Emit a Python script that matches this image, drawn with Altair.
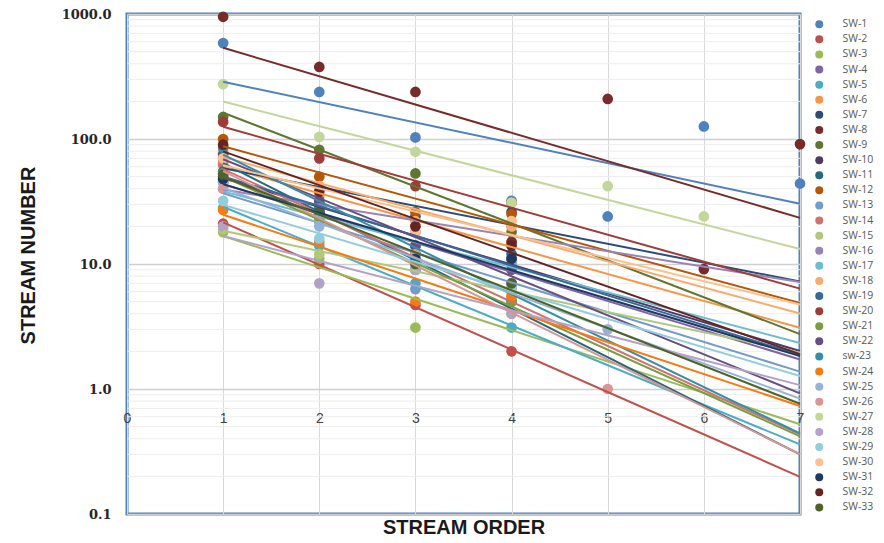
import altair as alt
import pandas as pd

names = ["SW-1", "SW-2", "SW-3", "SW-4", "SW-5", "SW-6", "SW-7", "SW-8", "SW-9", "SW-10",
         "SW-11", "SW-12", "SW-13", "SW-14", "SW-15", "SW-16", "SW-17", "SW-18", "SW-19", "SW-20",
         "SW-21", "SW-22", "sw-23", "SW-24", "SW-25", "SW-26", "SW-27", "SW-28", "SW-29", "SW-30",
         "SW-31", "SW-32", "SW-33"]

colors = ["#4F81BD", "#C0504D", "#9BBB59", "#8064A2", "#4BACC6", "#F79646",
          "#2C4D75", "#772C2A", "#5F7530", "#4D3B62", "#276A7C", "#B65708",
          "#729ACA", "#CD7371", "#AFC97A", "#9983B5", "#6FBDD1", "#F9AB6B",
          "#3A679C", "#9F3B38", "#7E9D40", "#664F82", "#358EA6", "#F57B12",
          "#95B3D7", "#D99694", "#C3D69B", "#B3A2C7", "#93CDDD", "#FAC090",
          "#1F3A60", "#632523", "#4F6228"]

orders = [1, 2, 3, 4, 5, 6, 7]

# stream numbers per stream order (order 1, 2, 3, ...)
sw1 = [585, 238, 103, 32, 24, 126, 44]
sw2 = [21, 10, 4.7, 2.0]
sw3 = [18, 11, 3.1, 4.0]
sw4 = [47, 25, 12, 10]
sw5 = [28, 14, 7, 3.1]
sw6 = [65, 35, 20, 15]
sw7 = [77, 30, 24, 26]
sw8 = [950, 377, 238, 15, 209, 9.1, 91]
sw9 = [150, 82, 53, 18]
sw10 = [50, 30, 14, 11]
sw11 = [70, 25, 9, 5]
sw12 = [100, 50, 26, 25]
sw13 = [45, 22, 6.3, 11]
sw14 = [62, 24, 10, 5.5]
sw15 = [19, 12, 9, 6]
sw16 = [45, 27, 18, 20]
sw17 = [40, 23, 14, 10]
sw18 = [80, 42, 22, 20]
sw19 = [55, 30, 12, 12]
sw20 = [137, 70, 42, 31]
sw21 = [53, 22, 9, 5]
sw22 = [75, 32, 14, 9]
sw23 = [85, 28, 12, 6.5]
sw24 = [27, 15, 5, 5.5]
sw25 = [45, 20, 9, 7, 3.0]
sw26 = [40, 26, 12, 7, 1.0]
sw27 = [275, 104, 79, 31, 42, 24]
sw28 = [20, 7, 9, 4]
sw29 = [32, 16, 10, 6.5]
sw30 = [70, 40, 18, 22]
sw31 = [48, 26, 11, 11]
sw32 = [90, 38, 20, 14]
sw33 = [52, 26, 10, 7]

series_values = [sw1, sw2, sw3, sw4, sw5, sw6, sw7, sw8, sw9, sw10, sw11, sw12, sw13, sw14,
                 sw15, sw16, sw17, sw18, sw19, sw20, sw21, sw22, sw23, sw24, sw25, sw26,
                 sw27, sw28, sw29, sw30, sw31, sw32, sw33]

y_ticks = [0.1, 1, 10, 100, 1000]
x_ticks = [0, 1, 2, 3, 4, 5, 6, 7]
minor_mult = [2, 3, 4, 5, 6, 7, 8, 9]

rows = []
for name, vals in zip(names, series_values):
    for o, v in zip(orders, vals):
        rows.append({"series": name, "order": o, "number": v})
df = pd.DataFrame(rows)

minor = pd.DataFrame({"number": [m * t for t in y_ticks[:-1] for m in minor_mult]})

xscale = alt.Scale(domain=[0, 7], nice=False)
yscale = alt.Scale(type="log", domain=[0.1, 1000], nice=False)
cscale = alt.Scale(domain=names, range=colors)

x_enc = alt.X(
    "order:Q", scale=xscale,
    axis=alt.Axis(values=x_ticks, format="d", title="STREAM ORDER", offset=-125,
                  grid=True, gridColor="#D9D9D9", gridWidth=1, ticks=False, domain=False,
                  labelFont="Liberation Sans", labelFontSize=14, labelColor="#404040",
                  labelPadding=22, labelFlush=False, labelOverlap=False,
                  titleFont="Liberation Sans", titleFontSize=20, titleFontWeight="bold",
                  titleColor="#1A1A1A", titleY=138, titleBaseline="middle")
)
y_enc = alt.Y(
    "number:Q", scale=yscale,
    axis=alt.Axis(values=y_ticks, format=".1f", title="STREAM NUMBER",
                  grid=True, gridColor="#D0D0D0", gridWidth=1.5, ticks=False, domain=False,
                  labelFont="DejaVu Serif", labelFontWeight="bold", labelFontSize=13,
                  labelColor="#262626", labelPadding=16, labelOverlap=False,
                  titleFont="Liberation Sans", titleFontSize=20, titleFontWeight="bold",
                  titleColor="#1A1A1A", titleX=-99, titleY=241, titleAngle=270,
                  titleBaseline="middle")
)

minor_rules = alt.Chart(minor).mark_rule(color="#EDEDED", strokeWidth=1).encode(
    y=y_enc
)

points = alt.Chart(df).mark_circle(size=115, opacity=1).encode(
    x=x_enc,
    y=y_enc,
    color=alt.Color("series:N", scale=cscale, sort=names,
                    legend=alt.Legend(title=None, orient="none", legendX=687, legendY=5,
                                      direction="vertical", labelFont="Open Sans",
                                      labelFontSize=10.5, labelColor="#595959",
                                      symbolType="circle", symbolSize=64, rowPadding=4.1,
                                      labelOffset=18, symbolStrokeWidth=0, symbolLimit=40)),
    order=alt.Order("order:Q")
)

lines = alt.Chart(df).transform_calculate(
    ly="log(datum.number)"
).transform_regression(
    "order", "ly", method="linear", groupby=["series"], extent=[1, 7]
).transform_calculate(
    number="exp(datum.ly)"
).mark_line(strokeWidth=2).encode(
    x=alt.X("order:Q", scale=xscale),
    y=alt.Y("number:Q", scale=yscale),
    color=alt.Color("series:N", scale=cscale, legend=None),
    detail="series:N"
)

chart = alt.layer(minor_rules, points, lines).properties(
    width=673, height=500,
    padding={"left": 119, "top": 6, "right": 76, "bottom": 24},
    autosize=alt.AutoSizeParams(type="none")
).configure(background="white").configure_view(stroke="#4F81BD", strokeWidth=3)

chart.save("out.html", embed_options={"renderer": "svg", "actions": False})
